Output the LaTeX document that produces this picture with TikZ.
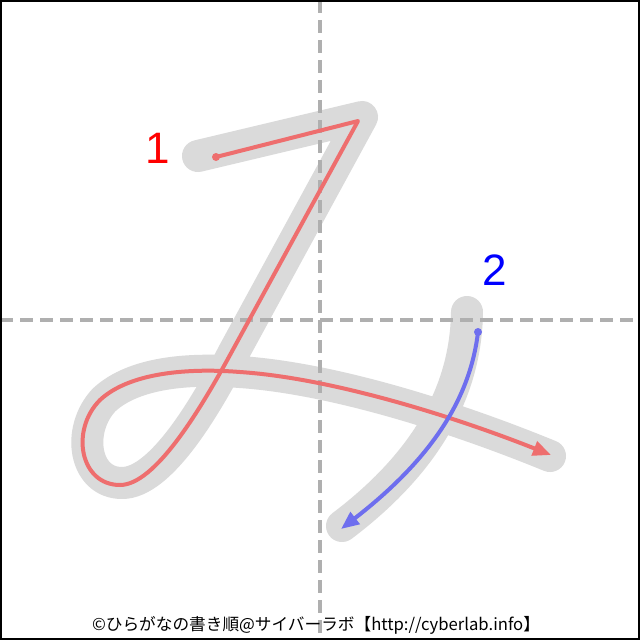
\documentclass[tikz,border=0pt]{standalone}
\usepackage{fontspec}
\setmainfont{Liberation Sans}
\newfontfamily\jpfont{Noto Sans CJK JP}
\usetikzlibrary{arrows.meta}
\definecolor{strokered}{RGB}{238,110,110}
\definecolor{strokeblue}{RGB}{110,110,238}
\definecolor{shadow}{RGB}{218,218,218}
\definecolor{guide}{RGB}{175,175,175}
\begin{document}
\begin{tikzpicture}[x=0.75pt,y=-0.75pt,
  shadowline/.style={draw=shadow,line width=24pt,line cap=round,line join=round},
  guideline/.style={draw=guide,line width=2.3pt,dash pattern=on 9.75pt off 5.25pt},
  redline/.style={draw=strokered,line width=3pt,line cap=round,line join=round},
  blueline/.style={draw=strokeblue,line width=3pt,line cap=round},
  dotnode/.style={circle,inner sep=0pt,minimum size=6pt},
  numlabel/.style={inner sep=0pt,font=\fontsize{33}{33}\selectfont},
  tipstyle/.style={-{Triangle[length=13.5pt,width=11pt]}}
]
\useasboundingbox (0,0) rectangle (640,640);
\fill[white] (0,0) rectangle (640,640);
% shadows
\draw[shadowline] (198,156) -- (362,117) -- (234,352)
  .. controls (204,410) and (160,483) .. (122,483)
  .. controls (84,483) and (76,430) .. (104,400)
  .. controls (134,372) and (190,368) .. (240,372)
  .. controls (330,378) and (450,415) .. (550,456);
\draw[shadowline] (467,312) .. controls (466,385) and (432,458) .. (342,526);
% guides
\coordinate (gt) at (320,0);
\coordinate (gb) at (320,640);
\coordinate (gl) at (0,320);
\coordinate (gr) at (640,320);
\draw[guideline] (gt) -- (gb);
\draw[guideline] (gl) -- (gr);
% stroke 1
\node[dotnode,fill=strokered] (s1) at (216,157) {};
\coordinate (e1) at (551,455);
\draw[redline,tipstyle] (s1.center) -- (358,121) -- (230,355)
  .. controls (200,410) and (155,485) .. (120,485)
  .. controls (80,485) and (70,430) .. (100,400)
  .. controls (130,372) and (190,368) .. (240,372)
  .. controls (330,378) and (450,415) .. (e1);
% stroke 2
\node[dotnode,fill=strokeblue] (s2) at (478,332) {};
\coordinate (e2) at (341,529);
\draw[blueline,tipstyle] (s2.center) .. controls (470,400) and (430,460) .. (e2);
% labels
\node[numlabel,text=red] (n1) at (158,148) {1};
\node[numlabel,text=blue] (n2) at (495,270) {2};
\node[inner sep=0pt,font=\jpfont\fontsize{12.5}{12.5}\selectfont] (foot) at (316,625) {©ひらがなの書き順@サイバーラボ【http://cyberlab.info】};
% frame
\draw[black,line width=1.5pt] (1,1) rectangle (639,639);
\end{tikzpicture}
\end{document}
